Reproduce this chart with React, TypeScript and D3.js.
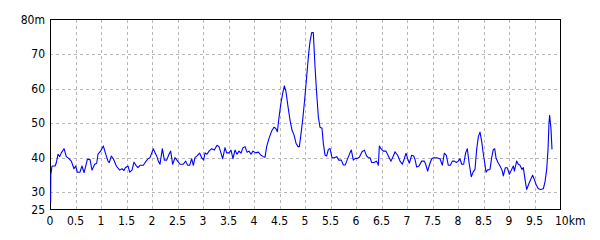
import React from "react";
import * as d3 from "d3";

const distanceKm: number[] = [
  0.012, 0.016, 0.04, 0.1, 0.125, 0.157, 0.19, 0.222, 0.275, 0.32, 0.366, 0.418, 0.47, 0.503, 0.536, 0.588, 0.627, 0.667, 0.693, 0.732,
  0.784, 0.824, 0.876, 0.915, 0.941, 0.993, 1.046, 1.085, 1.137, 1.163, 1.203, 1.242, 1.301, 1.366, 1.412, 1.451, 1.477, 1.529, 1.562, 1.608,
  1.647, 1.686, 1.725, 1.765, 1.83, 1.869, 1.922, 1.961, 2.026, 2.06, 2.092, 2.124, 2.157, 2.203, 2.242, 2.288, 2.333, 2.366, 2.405, 2.451,
  2.503, 2.549, 2.614, 2.66, 2.699, 2.739, 2.778, 2.81, 2.843, 2.882, 2.935, 2.974, 3.013, 3.039, 3.078, 3.118, 3.17, 3.222, 3.275, 3.314,
  3.353, 3.386, 3.431, 3.464, 3.51, 3.549, 3.588, 3.627, 3.667, 3.706, 3.745, 3.784, 3.824, 3.863, 3.902, 3.941, 3.98, 4.033, 4.085, 4.137,
  4.183, 4.216, 4.248, 4.294, 4.346, 4.392, 4.425, 4.458, 4.484, 4.523, 4.562, 4.595, 4.627, 4.667, 4.706, 4.745, 4.784, 4.824, 4.863, 4.889,
  4.915, 4.954, 4.993, 5.033, 5.072, 5.098, 5.131, 5.163, 5.196, 5.229, 5.261, 5.294, 5.333, 5.359, 5.392, 5.425, 5.458, 5.49, 5.529, 5.569,
  5.621, 5.66, 5.712, 5.752, 5.791, 5.83, 5.882, 5.908, 5.948, 5.987, 6.026, 6.065, 6.118, 6.165, 6.205, 6.24, 6.275, 6.307, 6.359, 6.399,
  6.425, 6.438, 6.458, 6.49, 6.536, 6.588, 6.634, 6.686, 6.732, 6.765, 6.817, 6.863, 6.908, 6.948, 6.98, 7.013, 7.046, 7.092, 7.131, 7.157,
  7.19, 7.235, 7.288, 7.34, 7.366, 7.405, 7.444, 7.484, 7.523, 7.582, 7.647, 7.693, 7.732, 7.771, 7.81, 7.85, 7.889, 7.928, 7.967, 8.007,
  8.039, 8.072, 8.111, 8.15, 8.183, 8.216, 8.26, 8.298, 8.333, 8.366, 8.399, 8.431, 8.464, 8.497, 8.523, 8.549, 8.575, 8.627, 8.66, 8.693,
  8.719, 8.745, 8.784, 8.824, 8.863, 8.889, 8.928, 8.967, 9.007, 9.046, 9.085, 9.105, 9.15, 9.183, 9.216, 9.255, 9.281, 9.314, 9.346, 9.386,
  9.425, 9.464, 9.497, 9.529, 9.575, 9.621, 9.673, 9.706, 9.739, 9.765, 9.784, 9.797, 9.824, 9.843,
];

const elevationM: number[] = [
  27, 35, 37.6, 37.6, 38.6, 41, 40.3, 41.4, 42.6, 40.3, 39.8, 39, 36.8, 37.6, 35.8, 35.8, 37.6, 35.7, 37.1, 39.5,
  39.5, 36.4, 38.1, 38.4, 41, 41.9, 43.4, 41.4, 39, 38.6, 40.5, 39.7, 37.6, 36.4, 36.8, 36.3, 37.1, 37.6, 35.8, 36.4,
  38.7, 37.8, 37.1, 37.8, 37.8, 38.7, 39.7, 40, 42.6, 41.4, 40.5, 39, 38.1, 42.6, 39.3, 39.3, 41, 41.9, 38.1, 40,
  39, 38.1, 38.1, 39, 37.8, 37.8, 39.7, 37.8, 40, 40.5, 41.3, 40, 39.3, 41.4, 41, 41.9, 42.6, 42.2, 43.6, 43.2,
  41.3, 39.7, 42.9, 41.4, 41.4, 42.2, 39.7, 42.2, 41, 41.9, 41.3, 42.9, 43.2, 41.6, 41.9, 41, 41.9, 41.4, 41.6, 40.7,
  40.3, 40.1, 43.2, 45.6, 47.7, 48.8, 48.5, 47.5, 50.9, 55.3, 58.6, 60.8, 59.1, 54.8, 50.9, 48, 46.6, 44.2, 43.2, 43.2,
  46.1, 50.9, 56.7, 63.5, 70.2, 73.6, 76.2, 76.2, 66.4, 58.6, 51.9, 48.8, 48.5, 44.2, 40.8, 40.5, 42.4, 42.7, 40, 40,
  40.3, 39.3, 39.3, 37.9, 37.9, 39.5, 41.4, 42.2, 39.3, 39.8, 39.8, 40.1, 41.7, 42.2, 40.6, 40, 40, 38.6, 38.6, 39,
  38.4, 37.8, 43.4, 42.6, 41.9, 41.9, 40.5, 39, 40.5, 41.7, 40.7, 39, 38.1, 39.7, 41.3, 39.7, 38.4, 40.7, 40.5, 39.5,
  37.3, 37.6, 39, 39, 38.1, 36.1, 38.1, 39.7, 40, 40, 39.7, 37.8, 41.3, 40.7, 37.8, 37.8, 39, 39, 38.6, 39,
  39.7, 38.1, 38.1, 41.4, 42.6, 38.6, 34.5, 35.9, 36.6, 42.4, 46.1, 47.4, 44.8, 41, 38.6, 35.8, 36.4, 36.6, 40, 42.4,
  42.6, 40, 38.6, 37.6, 36.4, 34.7, 37.1, 37.1, 35.2, 36.4, 37.6, 36.1, 39, 38.1, 37.8, 36.6, 37.1, 33.7, 30.8, 32.3,
  33.7, 34.9, 33.7, 32.3, 31, 30.8, 31, 33, 36.6, 42.4, 50.1, 52.3, 48.2, 42.4,
];

const xTickValues: number[] = [0, 0.5, 1, 1.5, 2, 2.5, 3, 3.5, 4, 4.5, 5, 5.5, 6, 6.5, 7, 7.5, 8, 8.5, 9, 9.5, 10];
const xTickLabels: string[] = ["0", "0.5", "1", "1.5", "2", "2.5", "3", "3.5", "4", "4.5", "5", "5.5", "6", "6.5", "7", "7.5", "8", "8.5", "9", "9.5", "10"];
const yTickValues: number[] = [25, 30, 40, 50, 60, 70, 80];
const yTickLabels: string[] = ["25", "30", "40", "50", "60", "70", "80m"];

const W = 600;
const H = 240;
const left = 50;
const right = 560;
const top = 19.5;
const bottom = 209.5;
const font = "'Liberation Sans Narrow', 'Arial Narrow', 'DejaVu Sans Condensed', sans-serif";

export default function App() {
  const x = d3.scaleLinear().domain([0, 10]).range([left, right]);
  const y = d3.scaleLinear().domain([25, 80]).range([bottom, top]);
  const pts: [number, number][] = distanceKm.map((d, i) => [d, elevationM[i]]);
  const line = d3
    .line<[number, number]>()
    .x((d) => x(d[0]))
    .y((d) => y(d[1]));

  const gridX = xTickValues.filter((v) => v > 0 && v < 10);
  const gridY = yTickValues.filter((v) => v > 25 && v < 80);

  return (
    <svg
      width={W}
      height={H}
      viewBox={`0 0 ${W} ${H}`}
      style={{ position: "absolute", left: 0, top: 0, background: "#fff" }}
    >
      <rect x={0} y={0} width={W} height={H} fill="#fff" />
      <g stroke="#b8b8b8" strokeWidth={1} strokeDasharray="3,3" shapeRendering="crispEdges">
        {gridX.map((v) => (
          <line key={"gx" + v} x1={Math.round(x(v)) + 0.5} x2={Math.round(x(v)) + 0.5} y1={top} y2={bottom} />
        ))}
        {gridY.map((v) => (
          <line key={"gy" + v} x1={left} x2={right} y1={Math.round(y(v)) + 0.5} y2={Math.round(y(v)) + 0.5} />
        ))}
      </g>
      <rect
        x={left + 0.5}
        y={top}
        width={right - left}
        height={bottom - top}
        fill="none"
        stroke="#000"
        strokeWidth={1}
        shapeRendering="crispEdges"
      />
      <path d={line(pts) || ""} fill="none" stroke="#0000ff" strokeWidth={1.1} strokeLinejoin="round" />
      <g fontFamily={font} fontSize={12} fill="#000">
        {yTickValues.map((v, i) => (
          <text key={"yt" + v} x={45} y={y(v)} dy="0.35em" textAnchor="end">
            {yTickLabels[i]}
          </text>
        ))}
        {xTickValues.map((v, i) =>
          v === 10 ? (
            <text key={"xt" + v} x={x(v) - 5} y={225} textAnchor="start">
              {xTickLabels[i] + "km"}
            </text>
          ) : (
            <text key={"xt" + v} x={x(v)} y={225} textAnchor="middle">
              {xTickLabels[i]}
            </text>
          )
        )}
      </g>
    </svg>
  );
}
